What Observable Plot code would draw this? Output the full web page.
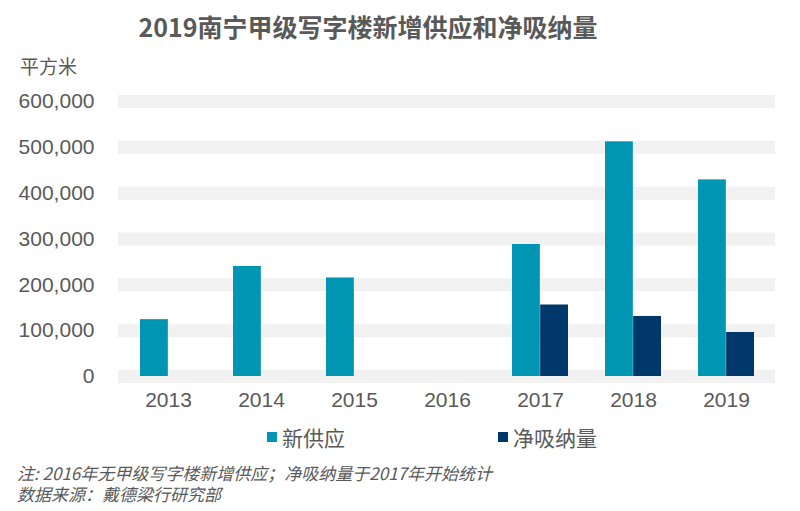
<!DOCTYPE html>
<html>
<head>
<meta charset="utf-8">
<script src="https://cdn.jsdelivr.net/npm/d3@7"></script>
<script src="https://cdn.jsdelivr.net/npm/@observablehq/plot@0.6"></script>
<style>
  html, body { margin: 0; padding: 0; background: #fff; }
  #wrap { position: relative; width: 800px; height: 511px; overflow: hidden; font-family: "Liberation Sans", "Noto Sans CJK SC", sans-serif; color: #595959; }
  #title { position: absolute; left: 0; width: 736px; top: 9px; text-align: center; font-family: "Noto Sans CJK SC", sans-serif; font-weight: bold; font-size: 25px; color: #595959; line-height: 34px; }
  #unit { position: absolute; left: 20px; top: 53px; font-family: "Noto Sans CJK SC", sans-serif; font-size: 19px; line-height: 26px; }
  #chart { position: absolute; left: 0; top: 60px; }
  .leg { position: absolute; top: 424px; font-family: "Noto Sans CJK SC", sans-serif; font-size: 21px; line-height: 26px; display: flex; align-items: center; }
  .leg span.sw { display: inline-block; width: 10px; height: 10px; margin-right: 5px; }
  #notes { position: absolute; left: 17px; top: 462px; font-family: "Noto Sans CJK SC", sans-serif; font-style: italic; font-size: 17px; line-height: 21px; white-space: pre-line; }
</style>
</head>
<body>
<div id="wrap">
  <div id="title"></div>
  <div id="unit"></div>
  <div id="chart"></div>
  <div id="legend"></div>
  <div id="notes"></div>
</div>
<script>
const titleText = "2019南宁甲级写字楼新增供应和净吸纳量";
const unitText = "平方米";
const years = ["2013", "2014", "2015", "2016", "2017", "2018", "2019"];
const seriesNames = ["新供应", "净吸纳量"];
const seriesColors = ["#0096b3", "#00386b"];
const newSupply = [124000, 240000, 215000, null, 288000, 512000, 429000];
const netAbsorption = [null, null, null, null, 156000, 131000, 96000];
const yTicks = [0, 100000, 200000, 300000, 400000, 500000, 600000];
const notes = ["注: 2016年无甲级写字楼新增供应；净吸纳量于2017年开始统计", "数据来源：戴德梁行研究部"];

document.getElementById("title").textContent = titleText;
document.getElementById("unit").textContent = unitText;

const supplyData = years.map((y, i) => ({year: y, value: newSupply[i]})).filter(d => d.value != null);
const absorbData = years.map((y, i) => ({year: y, value: netAbsorption[i]})).filter(d => d.value != null);

const width = 800, marginLeft = 118, marginRight = 25;
const paddingInner = 0.4, paddingOuter = 0.2;
const step = (width - marginLeft - marginRight) / years.length;
const half = step * (1 - paddingInner) / 2;

const fmt = d3.format(",");

const plot = Plot.plot({
  width,
  height: 360,
  marginLeft,
  marginRight,
  marginTop: 41,
  marginBottom: 44,
  style: { fontFamily: '"Liberation Sans", "Noto Sans CJK SC", sans-serif', fontSize: "21px", color: "#595959", background: "transparent" },
  x: { domain: years, paddingInner, paddingOuter, label: null, tickSize: 0, tickPadding: 16 },
  y: { domain: [0, 600000], ticks: yTicks, tickFormat: fmt, label: null, tickSize: 0, tickPadding: 24 },
  marks: [
    Plot.ruleY(yTicks, { stroke: "#f1f1f1", strokeWidth: 13 }),
    Plot.barY(supplyData, { x: "year", y: "value", fill: seriesColors[0], insetRight: half }),
    Plot.barY(absorbData, { x: "year", y: "value", fill: seriesColors[1], insetLeft: half }),
    Plot.axisX({ tickSize: 0, tickPadding: 16, fontSize: 21, fill: "#595959" }),
    Plot.axisY({ ticks: yTicks, tickFormat: fmt, tickSize: 0, tickPadding: 24, fontSize: 21, fill: "#595959" })
  ]
});
document.getElementById("chart").appendChild(plot);

const legendPos = [267, 498];
const legend = document.getElementById("legend");
seriesNames.forEach((n, i) => {
  const item = document.createElement("div");
  item.className = "leg";
  item.style.left = legendPos[i] + "px";
  const sw = document.createElement("span");
  sw.className = "sw";
  sw.style.background = seriesColors[i];
  const t = document.createElement("span");
  t.textContent = n;
  item.appendChild(sw);
  item.appendChild(t);
  legend.appendChild(item);
});

document.getElementById("notes").textContent = notes.join("\n");
</script>
</body>
</html>
